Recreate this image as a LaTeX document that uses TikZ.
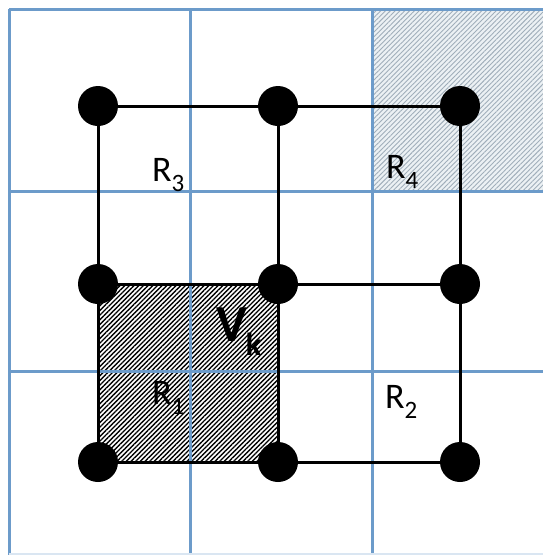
\documentclass[tikz,border=0pt]{standalone}
\usepackage{fontspec}
\setmainfont{Carlito}
\usetikzlibrary{patterns.meta}
\definecolor{gridblue}{RGB}{108,155,202}
\definecolor{hatchlight}{RGB}{160,174,186}
\definecolor{tintlight}{RGB}{236,241,244}
\newcommand{\rlab}[2]{{\fontsize{36}{36}\selectfont #1\raisebox{-10pt}{\fontsize{25}{25}\selectfont #2}}}
\tikzset{
  vtx/.style={circle, fill=black, minimum size=40pt, inner sep=0pt},
  gridline/.style={draw=gridblue, line width=3pt},
  edge/.style={draw=black, line width=3pt},
  lbl/.style={anchor=base west, inner sep=0pt}
}
\begin{document}
\begin{tikzpicture}[x=1pt,y=-1pt]
\useasboundingbox (0,0) rectangle (543,555);
\fill[white] (0,0) rectangle (543,555);
% vertex positions
\coordinate (c11) at (98,106);  \coordinate (c12) at (278,106);  \coordinate (c13) at (460,106);
\coordinate (c21) at (98,284);  \coordinate (c22) at (278,284);  \coordinate (c23) at (460,284);
\coordinate (c31) at (98,462);  \coordinate (c32) at (278,462);  \coordinate (c33) at (460,462);
% hatched region R4
\fill[tintlight] (372,9) rectangle (543,192);
\fill[pattern={Lines[angle=45,distance=3.4pt,line width=0.9pt]}, pattern color=hatchlight] (372,9) rectangle (543,192);
% hatched region V_k
\fill[white] (c21) rectangle (c32);
\fill[pattern={Lines[angle=45,distance=3.3pt,line width=1.4pt]}, pattern color=black] (c21) rectangle (c32);
% blue grid
\draw[gridline] (9,9) -- (9,555);
\draw[gridline] (190.5,9) -- (190.5,555);
\draw[gridline] (372,9) -- (372,555);
\draw[gridline] (9,9) -- (543,9);
\draw[gridline] (9,191.5) -- (543,191.5);
\draw[gridline] (9,371) -- (543,371);
\draw[draw=gridblue!25, line width=2pt] (9,554) -- (543,554);
% vertices
\node[vtx] (n11) at (c11) {}; \node[vtx] (n12) at (c12) {}; \node[vtx] (n13) at (c13) {};
\node[vtx] (n21) at (c21) {}; \node[vtx] (n22) at (c22) {}; \node[vtx] (n23) at (c23) {};
\node[vtx] (n31) at (c31) {}; \node[vtx] (n32) at (c32) {}; \node[vtx] (n33) at (c33) {};
% edges
\draw[edge] (n11) -- (n12); \draw[edge] (n12) -- (n13);
\draw[edge] (n21) -- (n22); \draw[edge] (n22) -- (n23);
\draw[edge] (n31) -- (n32); \draw[edge] (n32) -- (n33);
\draw[edge] (n11) -- (n21); \draw[edge] (n21) -- (n31);
\draw[edge] (n12) -- (n22); \draw[edge] (n22) -- (n32);
\draw[edge] (n13) -- (n23); \draw[edge] (n23) -- (n33);
% labels
\node[lbl] (r3) at (152,181) {\rlab{R}{3}};
\node[lbl] (r4) at (386,178) {\rlab{R}{4}};
\node[lbl] (r1) at (152,404) {\rlab{R}{1}};
\node[lbl] (r2) at (385,408) {\rlab{R}{2}};
\node[lbl] (vk) at (216,341) {\fontsize{52}{52}\selectfont\bfseries V\kern-1pt\raisebox{-14pt}{\fontsize{32}{32}\selectfont k}};
\end{tikzpicture}
\end{document}
